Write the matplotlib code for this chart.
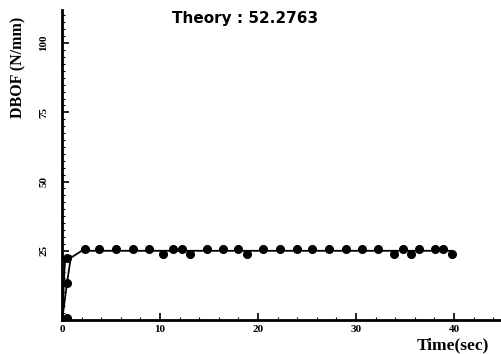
import matplotlib
matplotlib.use("Agg")
import matplotlib.pyplot as plt
from matplotlib.ticker import MultipleLocator

# Data
point_x = [0.5, 0.5, 0.5, 2.35, 3.8, 5.5, 7.2, 8.9, 10.3, 11.3, 12.2, 13.1, 14.8, 16.4, 18.0, 18.9,
           20.5, 22.2, 24.0, 25.5, 27.2, 29.0, 30.6, 32.2, 33.9, 34.8, 35.6, 36.4, 38.1, 38.9, 39.8]
point_y = [0.7, 13.4, 22.5, 25.6, 25.6, 25.6, 25.6, 25.6, 23.8, 25.6, 25.6, 23.8, 25.6, 25.6, 25.6, 23.8,
           25.6, 25.6, 25.6, 25.6, 25.6, 25.6, 25.6, 25.6, 23.8, 25.6, 23.8, 25.6, 25.6, 25.6, 23.8]
line_x = [0.0, 0.3, 0.8, 0.9, 2.0, 39.8]
line_y = [0.0, 22.5, 23.0, 22.5, 25.0, 25.0]
line2_x = [0.0, 0.5, 0.9]
line2_y = [0.0, 13.4, 23.0]
y_ticks = [25, 50, 75, 100]
x_ticks = [0, 10, 20, 30, 40]
theory_text = "Theory : 52.2763"

fig = plt.figure(figsize=(5.01, 3.54), dpi=100)
ax = fig.add_axes([0.124, 0.096, 0.876, 0.876])
ax.plot(line_x, line_y, color="black", lw=1.3)
ax.plot(line2_x, line2_y, color="black", lw=1.3)
ax.plot(point_x, point_y, "o", color="black", markersize=5.5)

ax.set_xlim(0, 44.8)
ax.set_ylim(0, 112)
for s in ["top", "right"]:
    ax.spines[s].set_visible(False)
for s in ["left", "bottom"]:
    ax.spines[s].set_linewidth(2)

ax.set_xticks(x_ticks)
ax.set_yticks(y_ticks)
ax.yaxis.set_minor_locator(MultipleLocator(2.5))
ax.xaxis.set_minor_locator(MultipleLocator(2))
ax.tick_params(direction="in", length=5, width=1.2)
ax.tick_params(which="minor", direction="in", length=2, width=0.8)
ax.set_xticklabels([str(v) for v in x_ticks], fontfamily="Liberation Serif",
                   fontweight="bold", fontsize=8)
ax.set_yticklabels([str(v) for v in y_ticks], fontfamily="Liberation Serif",
                   fontweight="bold", fontsize=8, rotation=90, va="center")
ax.tick_params(axis="y", pad=10)

fig.text(0.036, 0.81, "DBOF (N/mm)", rotation=90, ha="center", va="center",
         fontfamily="Liberation Serif", fontweight="bold", fontsize=11.5)
fig.text(0.49, 0.948, theory_text, ha="center", va="center",
         fontfamily="DejaVu Sans", fontweight="semibold", fontsize=11)
fig.text(0.904, 0.025, "Time(sec)", ha="center", va="center",
         fontfamily="Liberation Serif", fontweight="bold", fontsize=12.5)

fig.savefig("out.png", dpi=100)
